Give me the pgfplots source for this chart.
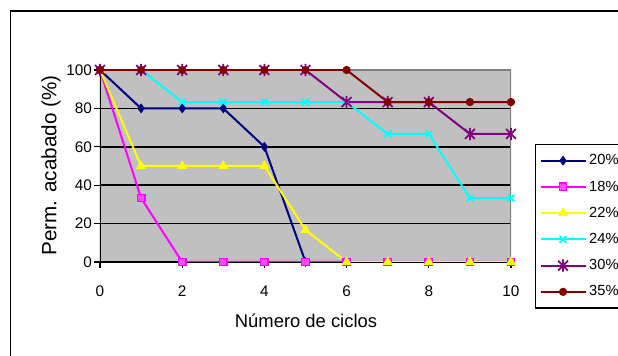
\documentclass[border=0pt]{standalone}
\usepackage{pgfplots}
\pgfplotsset{compat=1.18}
\usepackage{fontspec}
\setmainfont{Liberation Sans}

\definecolor{plotgray}{RGB}{192,192,192}
\definecolor{bordergray}{RGB}{128,128,128}
\definecolor{c20}{RGB}{0,0,128}
\definecolor{c18}{RGB}{255,0,255}
\definecolor{c22}{RGB}{255,255,0}
\definecolor{c24}{RGB}{0,255,255}
\definecolor{c30}{RGB}{128,0,128}
\definecolor{c35}{RGB}{128,0,0}

% star marker: an x with a vertical bar through it
\pgfdeclareplotmark{xstar}{%
  \pgfpathmoveto{\pgfqpoint{-0.8\pgfplotmarksize}{-0.8\pgfplotmarksize}}%
  \pgfpathlineto{\pgfqpoint{0.8\pgfplotmarksize}{0.8\pgfplotmarksize}}%
  \pgfpathmoveto{\pgfqpoint{-0.8\pgfplotmarksize}{0.8\pgfplotmarksize}}%
  \pgfpathlineto{\pgfqpoint{0.8\pgfplotmarksize}{-0.8\pgfplotmarksize}}%
  \pgfpathmoveto{\pgfqpoint{0pt}{-\pgfplotmarksize}}%
  \pgfpathlineto{\pgfqpoint{0pt}{\pgfplotmarksize}}%
  \pgfusepathqstroke}

\begin{document}
\begin{tikzpicture}
\clip (0pt,0pt) rectangle (463.5pt,267pt);
% outer chart frame
\draw[line width=1.2pt] (7.9pt,258.8pt) rectangle (520pt,-40pt);
\begin{axis}[
  at={(75pt,70.5pt)}, anchor=south west,
  scale only axis, width=308.25pt, height=144pt,
  xmin=0, xmax=10, ymin=0, ymax=100,
  xtick={0,2,...,10}, ytick={0,20,...,100},
  tick pos=left, tick align=outside,
  major tick length=4.5pt,
  tick style={black, line width=0.8pt},
  axis line style={draw=none},
  axis background/.style={fill=plotgray},
  ymajorgrids, grid style={black, line width=1.2pt},
  /pgf/number format/assume math mode=true,
  ticklabel style={font=\fontsize{11.5}{13}\selectfont},
  xticklabel style={yshift=-10pt},
  yticklabel style={xshift=2pt},
  legend style={at={(1.0584,0.6146)}, anchor=north west,
    draw=black, line width=0.8pt, fill=white,
    font=\fontsize{11}{13}\selectfont,
    row sep=6.5pt, inner xsep=3pt, inner ysep=5.5pt,
    cells={anchor=west}},
  legend image code/.code={%
    \draw[mark repeat=2,mark phase=2,#1]
      plot coordinates {(0pt,0pt) (16.9pt,0pt) (33.75pt,0pt)};},
  every axis plot/.append style={line width=1.5pt},
]
% frame of the plot area
\draw[bordergray, line width=1pt] (rel axis cs:0,1) -- (rel axis cs:1,1) -- (rel axis cs:1,0);
\draw[black, line width=1.1pt] (rel axis cs:0,0) -- (rel axis cs:0,1);
\draw[black, line width=1.6pt] (rel axis cs:0,0) -- (rel axis cs:1,0);

\addplot[c20, mark=diamond*, mark size=3.3pt, mark options={solid, fill=c20, line width=0.5pt}]
  coordinates {(0,100) (1,80) (2,80) (3,80) (4,60) (5,0)};
\addlegendentry{20\%}
\addplot[c18, mark=square*, mark size=2.8pt, mark options={solid, fill=c18!70!white, line width=1pt}]
  coordinates {(0,100) (1,33.3) (2,0) (3,0) (4,0) (5,0) (6,0) (7,0) (8,0) (9,0) (10,0)};
\addlegendentry{18\%}
\addplot[c22, mark=triangle*, mark size=3.8pt, mark options={solid, fill=c22, line width=0.5pt}]
  coordinates {(0,100) (1,50) (2,50) (3,50) (4,50) (5,16.7) (6,0) (7,0) (8,0) (9,0) (10,0)};
\addlegendentry{22\%}
\addplot[c24, mark=x, mark size=3.6pt, mark options={solid, line width=1.3pt}]
  coordinates {(0,100) (1,100) (2,83.3) (3,83.3) (4,83.3) (5,83.3) (6,83.3) (7,66.7) (8,66.7) (9,33.3) (10,33.3)};
\addlegendentry{24\%}
\addplot[c30, mark=xstar, mark size=4.6pt, mark options={solid, line width=1.3pt}]
  coordinates {(0,100) (1,100) (2,100) (3,100) (4,100) (5,100) (6,83.3) (7,83.3) (8,83.3) (9,66.7) (10,66.7)};
\addlegendentry{30\%}
\addplot[c35, mark=*, mark size=2.3pt, mark options={solid, fill=c35}]
  coordinates {(0,100) (1,100) (2,100) (3,100) (4,100) (5,100) (6,100) (7,83.3) (8,83.3) (9,83.3) (10,83.3)};
\addlegendentry{35\%}
\end{axis}
% axis titles
\node[rotate=90, font=\fontsize{15.5}{17}\selectfont] at (38.25pt,142.9pt) {Perm. acabado (\%)};
\node[font=\fontsize{13.8}{16}\selectfont] at (229.5pt,26.25pt) {Número de ciclos};
\end{tikzpicture}
\end{document}
